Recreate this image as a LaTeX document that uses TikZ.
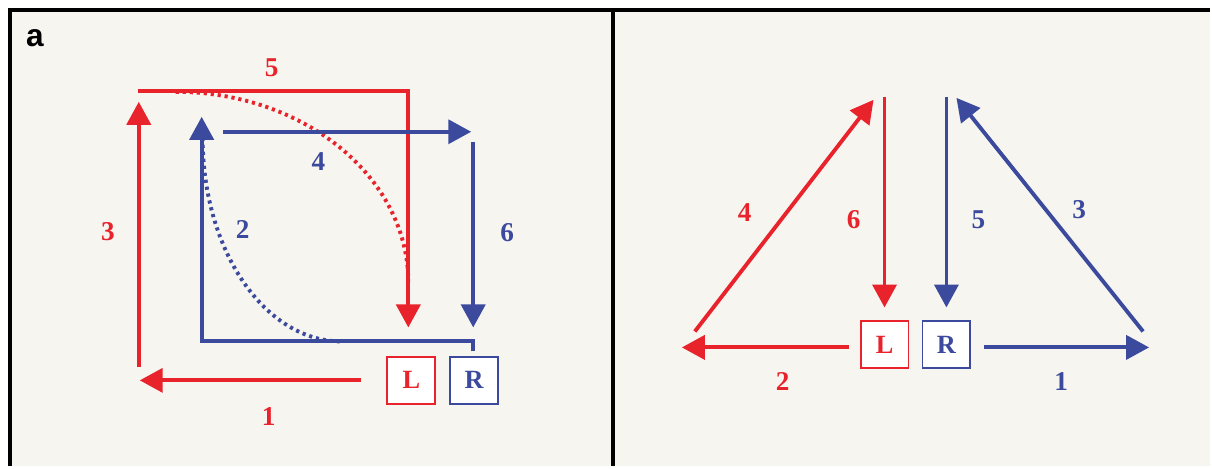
\documentclass[tikz,border=0pt]{standalone}
\usepackage{fontspec}
\setmainfont{Liberation Serif}
\newfontfamily\tagfont{Liberation Sans}
\usetikzlibrary{arrows.meta,positioning}
\definecolor{lred}{HTML}{E8232B}
\definecolor{lblue}{HTML}{3B4A9D}
\definecolor{panelbg}{HTML}{F6F5F0}

\begin{document}
\begin{tikzpicture}[
  x=0.02cm, y=-0.02cm,
  box/.style={draw,line width=1.1pt,fill=white,minimum width=0.96cm,
              minimum height=0.94cm,inner sep=0pt,
              font=\fontsize{15}{17}\selectfont\bfseries},
  redbox/.style={box,draw=lred,text=lred},
  bluebox/.style={box,draw=lblue,text=lblue},
  arr/.style={line width=2.2pt,-{Triangle[length=0.46cm,width=0.48cm]}},
  dots/.style={line width=2.2pt,dash pattern=on 1.8pt off 2.2pt},
  num/.style={font=\fontsize{15.5}{18}\selectfont\bfseries},
]
  % Frame and panels
  \fill[white] (0,0) rectangle (1212,467);
  \fill[panelbg] (10,10) rectangle (1212,467);
  \draw[line width=2.3pt] (10,467) -- (10,10) -- (1212,10);
  \draw[line width=2.3pt] (614,10) -- (614,467);
  \useasboundingbox (0,0) rectangle (1212,467);
  \node[font=\tagfont\fontsize{18}{20}\selectfont\bfseries] (tag) at (35,38) {a};

  % Left panel: boxes
  \node[redbox]  (L1) at (412,381) {L};
  \node[bluebox] (R1) at (475,381) {R};

  % Left panel: red path
  \coordinate (r1s) at (362,381);
  \coordinate (r1e) at (140,381);
  \coordinate (r3s) at (139,368);
  \coordinate (r3e) at (139,102);
  \coordinate (r5s) at (138,91);
  \coordinate (r5c) at (409,91);
  \coordinate (r5e) at (409,328);
  \coordinate (r5a) at (176,92);
  \coordinate (r5b) at (409,283);
  \draw[arr,lred] (r1s) -- (r1e);
  \draw[arr,lred] (r3s) -- (r3e);
  \draw[arr,lred] (r5s) -- (r5c) -- (r5e);
  \draw[dots,lred] (r5a) .. controls (304,92) and (409,177) .. (r5b);

  % Left panel: blue path
  \coordinate (b2s) at (474,352);
  \coordinate (b2c) at (474,342);
  \coordinate (b2d) at (202,342);
  \coordinate (b2e) at (202,117);
  \coordinate (b4s) at (223,132);
  \coordinate (b4e) at (472,132);
  \coordinate (b6s) at (474,142);
  \coordinate (b6e) at (474,328);
  \coordinate (b2a) at (203,138);
  \coordinate (b2b) at (342,342);
  \draw[arr,lblue] (b2s) -- (b2c) -- (b2d) -- (b2e);
  \draw[arr,lblue] (b4s) -- (b4e);
  \draw[arr,lblue] (b6s) -- (b6e);
  \draw[dots,lblue] (b2a) .. controls (203,252) and (266,342) .. (b2b);

  % Left panel: step numbers
  \node[num,lred]  (n5l) at (272,68)  {5};
  \node[num,lred]  (n3l) at (108,232) {3};
  \node[num,lred]  (n1l) at (269,417) {1};
  \node[num,lblue] (n2l) at (243,230) {2};
  \node[num,lblue] (n4l) at (319,162) {4};
  \node[num,lblue] (n6l) at (508,233) {6};

  % Right panel: boxes
  \node[redbox]  (L2) at (886,345) {L};
  \node[bluebox] (R2) at (948,345) {R};

  % Right panel: arrows
  \coordinate (p6s) at (886,97);
  \coordinate (p6e) at (886,308);
  \coordinate (p5s) at (948,97);
  \coordinate (p5e) at (948,308);
  \coordinate (p2s) at (850,348);
  \coordinate (p2e) at (683,348);
  \coordinate (p1s) at (986,348);
  \coordinate (p1e) at (1151,348);
  \coordinate (p4s) at (696,332);
  \coordinate (p4e) at (875,100);
  \coordinate (p3s) at (1145,332);
  \coordinate (p3e) at (958,98);
  \draw[arr,lred]  (p6s) -- (p6e);
  \draw[arr,lblue] (p5s) -- (p5e);
  \draw[arr,lred]  (p2s) -- (p2e);
  \draw[arr,lblue] (p1s) -- (p1e);
  \draw[arr,lred]  (p4s) -- (p4e);
  \draw[arr,lblue] (p3s) -- (p3e);

  % Right panel: step numbers
  \node[num,lred]  (n4r) at (746,213)  {4};
  \node[num,lred]  (n6r) at (855,220)  {6};
  \node[num,lblue] (n5r) at (980,220)  {5};
  \node[num,lblue] (n3r) at (1081,210) {3};
  \node[num,lred]  (n2r) at (784,382)  {2};
  \node[num,lblue] (n1r) at (1063,382) {1};
\end{tikzpicture}
\end{document}
